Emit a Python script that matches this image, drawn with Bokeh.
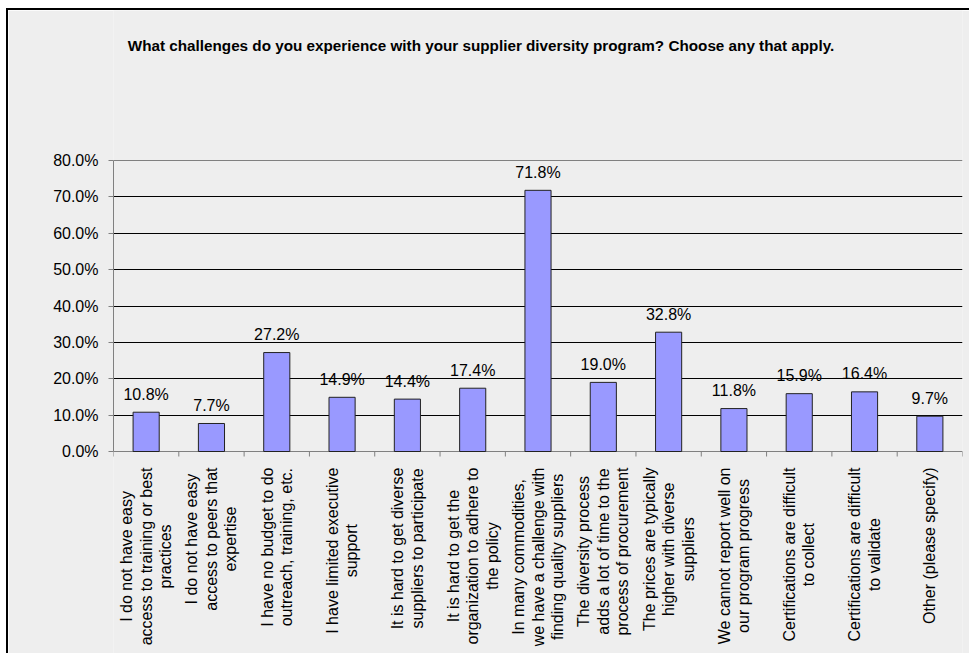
import math
from bokeh.plotting import figure
from bokeh.models import (ColumnDataSource, FixedTicker, PrintfTickFormatter, Span, Range1d)
from bokeh.core.properties import value
from bokeh.embed import file_html
from bokeh.resources import INLINE

TITLE = ("What challenges do you experience with your supplier diversity program? "
         "Choose any that apply.")

categories = [
    "I do not have easy\naccess to training or best\npractices",
    "I do not have easy\naccess to peers that\nexpertise",
    "I have no budget to do\noutreach, training, etc.",
    "I have limited executive\nsupport",
    "It is hard to get diverse\nsuppliers to participate",
    "It is hard to get the\norganization to adhere to\nthe policy",
    "In many commodities,\nwe have a challenge with\nfinding quality suppliers",
    "The diversity process\nadds a lot of time to the\nprocess of procurement",
    "The prices are typically\nhigher with diverse\nsuppliers",
    "We cannot report well on\nour program progress",
    "Certifications are difficult\nto collect",
    "Certifications are difficult\nto validate",
    "Other (please specify)",
]
values = [10.8, 7.7, 27.2, 14.9, 14.4, 17.4, 71.8, 19.0, 32.8, 11.8, 15.9, 16.4, 9.7]
y_ticks = [0, 10, 20, 30, 40, 50, 60, 70, 80]

FONT = "Liberation Sans"
FS = 16
LINE_H = 19.5
GAP = 16

# layout (pixels, inside the canvas)
CANVAS_W, CANVAS_H = 963, 645
PLOT_TOP, PLOT_BOTTOM = 150, 441          # where y_ticks[-1] and y_ticks[0] fall
BORDER_L, BORDER_R = 105, 9
PX = (PLOT_BOTTOM - PLOT_TOP) / float(y_ticks[-1] - y_ticks[0])
Y0 = y_ticks[0] - (CANVAS_H - PLOT_BOTTOM) / PX
Y1 = y_ticks[-1] + PLOT_TOP / PX
n = len(categories)
TICK_LEN = 5 / PX

# Arial / Liberation Sans advance widths (1/1000 em)
W = {' ': 278, '(': 333, ')': 333, ',': 278, '.': 278, '%': 889}
for ch in "0123456789":
    W[ch] = 556
W.update(dict(a=556, b=556, c=500, d=556, e=556, f=278, g=556, h=556, i=222, j=222,
              k=500, l=222, m=833, n=556, o=556, p=556, q=556, r=333, s=500, t=278,
              u=556, v=500, w=722, x=500, y=500, z=500))
W.update({'A': 667, 'C': 722, 'I': 278, 'O': 778, 'T': 611, 'W': 944})


def text_w(s):
    return sum(W.get(c, 556) for c in s) * FS / 1000.0


xs = [i + 0.5 for i in range(n)]
src = ColumnDataSource(dict(x=xs, v=values, lab=["%.1f%%" % v for v in values]))

p = figure(width=CANVAS_W, height=CANVAS_H, x_range=Range1d(0, n), y_range=Range1d(Y0, Y1),
           output_backend="svg", toolbar_location=None, x_axis_location=None,
           min_border_left=BORDER_L, min_border_right=BORDER_R, min_border_top=0,
           min_border_bottom=0,
           background_fill_color="#EEEEEE", border_fill_color="#EEEEEE",
           outline_line_color=None,
           styles={"margin-left": "6px", "margin-top": "8px",
                   "margin-bottom": "-12px", "margin-right": "-12px",
                   "border-left": "2px solid #000000", "border-top": "2px solid #000000"})

# grid
p.xgrid.grid_line_color = None
p.ygrid.ticker = FixedTicker(ticks=y_ticks[1:-1])
p.ygrid.grid_line_color = "#000000"
p.ygrid.grid_line_width = 1
p.add_layout(Span(location=y_ticks[-1], dimension="width", line_color="#808080", line_width=1))

# y axis
p.yaxis.ticker = FixedTicker(ticks=y_ticks)
p.yaxis.bounds = (y_ticks[0], y_ticks[-1])
p.yaxis.formatter = PrintfTickFormatter(format="%.1f%%")
p.yaxis.axis_line_color = "#808080"
p.yaxis.major_tick_line_color = "#808080"
p.yaxis.major_tick_out = 5
p.yaxis.major_tick_in = 0
p.yaxis.minor_tick_line_color = None
p.yaxis.major_label_text_font = FONT
p.yaxis.major_label_text_font_size = "%dpx" % FS
p.yaxis.major_label_text_color = "#000000"
p.yaxis.major_label_standoff = 10

# x axis line and ticks at category boundaries
bounds = list(range(n + 1))
p.segment(x0=[0], y0=[y_ticks[0]], x1=[n], y1=[y_ticks[0]], line_color="#808080", line_width=1)
p.segment(x0=bounds, y0=[y_ticks[0]] * len(bounds), x1=bounds,
          y1=[y_ticks[0] - TICK_LEN] * len(bounds), line_color="#808080", line_width=1)

# bars
p.vbar(x="x", top="v", bottom=0, width=0.4, source=src,
       fill_color="#9999FF", line_color="#222222", line_width=1)

# value labels
p.text(x="x", y="v", text="lab", source=src, text_align="center",
       text_baseline="alphabetic", y_offset=-18,
       text_font=value(FONT), text_font_size=value("%dpx" % FS), text_color="#000000")

# category labels: rotated, multi-line, lines centred on each other
cx, cy, ct, cxo, cyo = [], [], [], [], []
for i, cat in enumerate(categories):
    lines = cat.split("\n")
    widths = [text_w(s) for s in lines]
    mw = max(widths)
    k = len(lines)
    for j, (s, w) in enumerate(zip(lines, widths)):
        cx.append(xs[i])
        cy.append(y_ticks[0])
        ct.append(s)
        cxo.append((j - (k - 1) / 2.0) * LINE_H)
        cyo.append(GAP + (mw - w) / 2.0)
csrc = ColumnDataSource(dict(x=cx, y=cy, t=ct, xo=cxo, yo=cyo))
p.text(x="x", y="y", text="t", source=csrc, angle=math.pi / 2,
       x_offset="xo", y_offset="yo", text_align="right", text_baseline="middle",
       text_font=value(FONT), text_font_size=value("%dpx" % FS), text_color="#000000")

# title
p.text(x=[n / 2.0], y=[y_ticks[-1]], text=[TITLE], x_offset=-57, y_offset=-115,
       text_align="center", text_baseline="middle", text_font=value(FONT),
       text_font_style="bold", text_font_size=value("15.25px"), text_color="#000000")

open("out.html", "w").write(file_html(p, INLINE))
